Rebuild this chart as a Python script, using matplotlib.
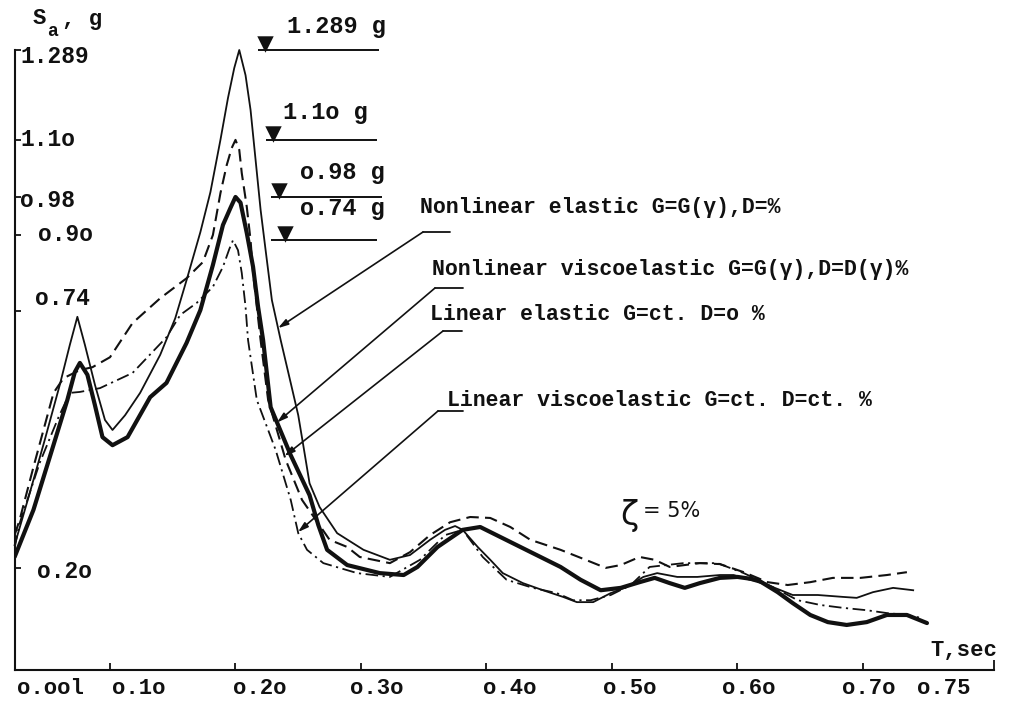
import numpy as np
import matplotlib
matplotlib.use('Agg')
import matplotlib.pyplot as plt
from matplotlib.transforms import ScaledTranslation

# period T (sec) and spectral acceleration Sa (g)
t_nl_elastic = [0.024, 0.036, 0.048, 0.060, 0.068, 0.074, 0.080, 0.088, 0.096, 0.102,
                0.112, 0.124, 0.140, 0.152, 0.161, 0.172, 0.180, 0.188, 0.194, 0.199,
                0.203, 0.208, 0.212, 0.216, 0.220, 0.224, 0.229, 0.236, 0.244, 0.250,
                0.254, 0.259, 0.267, 0.281, 0.302, 0.323, 0.339, 0.355, 0.367, 0.375,
                0.381, 0.393, 0.403, 0.413, 0.429, 0.445, 0.461, 0.472, 0.485, 0.499,
                0.512, 0.525, 0.536, 0.552, 0.568, 0.586, 0.597, 0.624, 0.644, 0.664,
                0.684, 0.695, 0.708, 0.724, 0.740]
sa_nl_elastic = [0.248, 0.357, 0.469, 0.585, 0.669, 0.728, 0.669, 0.585, 0.511, 0.490,
                 0.521, 0.568, 0.648, 0.725, 0.805, 0.906, 0.990, 1.100, 1.188, 1.251,
                 1.289, 1.236, 1.163, 1.058, 0.953, 0.868, 0.763, 0.679, 0.589, 0.521,
                 0.458, 0.378, 0.328, 0.273, 0.238, 0.217, 0.227, 0.259, 0.280, 0.288,
                 0.280, 0.244, 0.217, 0.189, 0.168, 0.153, 0.139, 0.128, 0.128, 0.147,
                 0.160, 0.181, 0.189, 0.181, 0.181, 0.185, 0.185, 0.164, 0.143, 0.143,
                 0.139, 0.137, 0.149, 0.158, 0.153]

t_nl_visco = [0.024, 0.039, 0.052, 0.066, 0.072, 0.076, 0.082, 0.088, 0.094, 0.102,
              0.114, 0.132, 0.145, 0.161, 0.172, 0.182, 0.190, 0.196, 0.200, 0.204,
              0.209, 0.214, 0.218, 0.222, 0.228, 0.244, 0.259, 0.266, 0.273, 0.289,
              0.315, 0.334, 0.345, 0.361, 0.381, 0.395, 0.411, 0.427, 0.443, 0.459,
              0.475, 0.491, 0.507, 0.522, 0.534, 0.546, 0.558, 0.570, 0.586, 0.600,
              0.616, 0.632, 0.644, 0.658, 0.672, 0.687, 0.703, 0.719, 0.735, 0.751]
sa_nl_visco = [0.223, 0.322, 0.433, 0.553, 0.612, 0.631, 0.606, 0.542, 0.475, 0.458,
               0.475, 0.559, 0.589, 0.673, 0.742, 0.837, 0.921, 0.957, 0.980, 0.968,
               0.904, 0.833, 0.749, 0.679, 0.538, 0.437, 0.353, 0.290, 0.238, 0.206,
               0.189, 0.185, 0.202, 0.244, 0.280, 0.286, 0.265, 0.244, 0.223, 0.202,
               0.175, 0.153, 0.158, 0.170, 0.179, 0.168, 0.158, 0.168, 0.179, 0.181,
               0.175, 0.149, 0.126, 0.101, 0.086, 0.080, 0.086, 0.101, 0.101, 0.084]

t_lin_elastic = [0.024, 0.028, 0.039, 0.055, 0.063, 0.076, 0.086, 0.100, 0.118, 0.140,
                 0.161, 0.174, 0.182, 0.188, 0.193, 0.197, 0.200, 0.203, 0.205, 0.209,
                 0.212, 0.214, 0.217, 0.220, 0.226, 0.240, 0.253, 0.275, 0.289, 0.299,
                 0.323, 0.339, 0.355, 0.371, 0.387, 0.403, 0.419, 0.435, 0.459, 0.479,
                 0.495, 0.507, 0.522, 0.534, 0.546, 0.570, 0.586, 0.605, 0.624, 0.640,
                 0.658, 0.676, 0.698, 0.719, 0.735]
sa_lin_elastic = [0.269, 0.301, 0.412, 0.568, 0.599, 0.616, 0.622, 0.643, 0.715, 0.767,
                  0.809, 0.843, 0.900, 0.988, 1.047, 1.083, 1.100, 1.079, 1.030, 0.959,
                  0.889, 0.820, 0.749, 0.679, 0.553, 0.427, 0.343, 0.259, 0.244, 0.223,
                  0.210, 0.233, 0.269, 0.296, 0.307, 0.305, 0.286, 0.259, 0.238, 0.217,
                  0.200, 0.206, 0.223, 0.217, 0.202, 0.210, 0.208, 0.191, 0.170, 0.164,
                  0.170, 0.179, 0.179, 0.185, 0.191]

t_lin_visco = [0.024, 0.028, 0.044, 0.059, 0.068, 0.076, 0.092, 0.118, 0.145, 0.156,
               0.169, 0.182, 0.190, 0.195, 0.198, 0.202, 0.205, 0.208, 0.210, 0.217,
               0.232, 0.244, 0.250, 0.257, 0.270, 0.297, 0.323, 0.347, 0.367, 0.381,
               0.397, 0.416, 0.437, 0.456, 0.469, 0.483, 0.499, 0.515, 0.530, 0.557,
               0.584, 0.605, 0.628, 0.648, 0.666, 0.684, 0.703, 0.719, 0.735, 0.746]
sa_lin_visco = [0.242, 0.294, 0.421, 0.517, 0.568, 0.570, 0.578, 0.610, 0.685, 0.732,
                0.757, 0.791, 0.833, 0.870, 0.889, 0.868, 0.820, 0.749, 0.679, 0.553,
                0.448, 0.343, 0.273, 0.238, 0.210, 0.189, 0.181, 0.217, 0.269, 0.280,
                0.223, 0.175, 0.158, 0.147, 0.132, 0.132, 0.143, 0.164, 0.202, 0.210,
                0.210, 0.189, 0.160, 0.132, 0.122, 0.116, 0.111, 0.105, 0.101, 0.095]

legend_text = ['Nonlinear elastic G=G(\u03b3),D=%',
               'Nonlinear viscoelastic G=G(\u03b3),D=D(\u03b3)%',
               'Linear elastic G=ct. D=o %',
               'Linear viscoelastic G=ct. D=ct. %']

ytick_vals = [0.20, 0.74, 0.90, 0.98, 1.10, 1.289]
ytick_text = ['o.2o', 'o.74', 'o.9o', 'o.98', '1.1o', '1.289']
xtick_vals = [0.0243, 0.1, 0.2, 0.3, 0.4, 0.5, 0.6, 0.7, 0.75]
xtick_text = ['o.ool', 'o.1o', 'o.2o', 'o.3o', 'o.4o', 'o.5o', 'o.6o', 'o.7o', 'o.75']

peak_vals = [1.289, 1.10, 0.98, 0.89]
peak_text = ['1.289 g', '1.1o g', 'o.98 g', 'o.74 g']
peak_t_start = [0.218, 0.224, 0.228, 0.228]
peak_t_end = [0.314, 0.313, 0.317, 0.313]
peak_t_mark = [0.2235, 0.2300, 0.2348, 0.2395]

W, H = 1018, 702
mono = 'Liberation Mono'
ink = '#111111'


def fp(x, y):
    # image pixel (top-left origin) -> figure pixels
    return (x, H - y)


fig = plt.figure(figsize=(W / 100, H / 100), dpi=100)
ax = fig.add_axes([15 / W, (H - 670) / H, (994 - 15) / W, (670 - 50) / H])
ax.set_xlim(0.0243, 0.8044)
ax.set_ylim(-0.0147, 1.289)

ax.plot(t_nl_elastic, sa_nl_elastic, color=ink, lw=1.3, solid_joinstyle='round',
        clip_on=False)
ax.plot(t_nl_visco, sa_nl_visco, color=ink, lw=3.0, solid_joinstyle='round',
        solid_capstyle='round')
ax.plot(t_lin_elastic, sa_lin_elastic, color=ink, lw=1.5, dashes=(6, 3))
ax.plot(t_lin_visco, sa_lin_visco, color=ink, lw=1.3, dashes=(7, 2.5, 1.2, 2.5))

for sp in ['top', 'right']:
    ax.spines[sp].set_visible(False)
for sp in ['left', 'bottom']:
    ax.spines[sp].set_linewidth(1.5)
    ax.spines[sp].set_color(ink)

# y axis: ticks inside, labels written inside the frame
ax.set_yticks(ytick_vals)
ax.set_yticklabels([])
ax.tick_params(axis='y', direction='in', length=4, width=1.3, color=ink)
y_off = [(15.8, -2.9), (14.4, 9.4), (16.6, 0), (3.6, -2.2), (3.6, 0), (3.6, -5)]
for val, lab, (dx, dy) in zip(ytick_vals, ytick_text, y_off):
    ax.annotate(lab, xy=(0, val), xycoords=('axes fraction', 'data'),
                xytext=(dx, dy), textcoords='offset points', ha='left', va='center',
                family=mono, fontsize=16.5, fontweight='bold', color=ink)

# x axis
ax.set_xticks(xtick_vals)
ax.set_xticklabels(xtick_text, family=mono, fontsize=16, fontweight='bold', color=ink,
                   ha='left')
ax.tick_params(axis='x', direction='in', length=5, width=1.3, color=ink, pad=6)
ax.set_xticks([0.8044], minor=True)
ax.tick_params(axis='x', which='minor', direction='in', length=7, width=1.3, color=ink)
ticks = ax.xaxis.get_major_ticks()
ticks[0].tick1line.set_visible(False)
ticks[-1].tick1line.set_visible(False)
x_off = [1.4, 1.4, -1.8, -7.9, -2.2, -6.5, -10.8, -15.1, -6.5]
for lab, dx in zip(ax.get_xticklabels(), x_off):
    lab.set_transform(lab.get_transform() + ScaledTranslation(dx / 72, 0, fig.dpi_scale_trans))

# axis titles
fig.text(33 / W, 1 - 18 / H, 'S', family=mono, fontsize=16, fontweight='bold',
         ha='left', va='center', color=ink)
fig.text(47 / W, 1 - 32 / H, 'a', family=mono, fontsize=13, fontweight='bold',
         ha='left', va='center', color=ink)
fig.text(62 / W, 1 - 20 / H, ', g', family=mono, fontsize=16, fontweight='bold',
         ha='left', va='center', color=ink)
fig.text(997 / W, 1 - 650 / H, 'T,sec', family=mono, fontsize=16, fontweight='bold',
         ha='right', va='center', color=ink)

# peak level markers
ax.hlines(peak_vals, peak_t_start, peak_t_end, color=ink, lw=1.4, clip_on=False)
mark_tr = ax.transData + ScaledTranslation(0, 6 / 100, fig.dpi_scale_trans)
ax.scatter(peak_t_mark, peak_vals, marker='v', s=140, color=ink, transform=mark_tr,
           zorder=4, linewidths=0, clip_on=False)
peak_lab_pos = [(287, 27), (283, 113), (300, 172), (300, 208)]
for txt, (px, py) in zip(peak_text, peak_lab_pos):
    ax.annotate(txt, xy=fp(px, py), xycoords='figure pixels', ha='left', va='center',
                family=mono, fontsize=17, fontweight='bold', color=ink)

# leader lines from the curve names to the curves
series = [(t_nl_elastic, sa_nl_elastic), (t_nl_visco, sa_nl_visco),
          (t_lin_elastic, sa_lin_elastic), (t_lin_visco, sa_lin_visco)]
leader_t = [0.2339, 0.2331, 0.2391, 0.2498]
leader_start = [(423, 232), (435, 288), (443, 331), (438, 411)]
leader_end = [450, 463, 462, 463]
text_pos = [(420, 207), (432, 270), (430, 315), (447, 400)]
for (ts, ss), tt, (sx, sy), ex, txt, (tx, ty) in zip(series, leader_t, leader_start,
                                                     leader_end, legend_text, text_pos):
    target = (tt, np.interp(tt, ts, ss))
    ax.annotate('', xy=target, xycoords='data', xytext=fp(sx, sy),
                textcoords='figure pixels',
                arrowprops=dict(arrowstyle='-|>,head_length=0.6,head_width=0.18',
                                color=ink, lw=1.2, shrinkA=0, shrinkB=0))
    ax.annotate('', xy=fp(ex, sy), xycoords='figure pixels', xytext=fp(sx, sy),
                textcoords='figure pixels',
                arrowprops=dict(arrowstyle='-', color=ink, lw=1.3, shrinkA=0, shrinkB=0))
    ax.annotate(txt, xy=fp(tx, ty), xycoords='figure pixels', ha='left', va='center',
                family=mono, fontsize=15.5, fontweight='bold', color=ink)

# damping note
ax.annotate('\u03b6', xy=fp(620, 515), xycoords='figure pixels', ha='left', va='center',
            family='DejaVu Sans', fontsize=24, color=ink)
ax.annotate('= 5%', xy=fp(643, 511), xycoords='figure pixels', ha='left', va='center',
            family='DejaVu Sans', fontsize=15, color=ink)

fig.savefig('out.png', dpi=100, facecolor='white')
